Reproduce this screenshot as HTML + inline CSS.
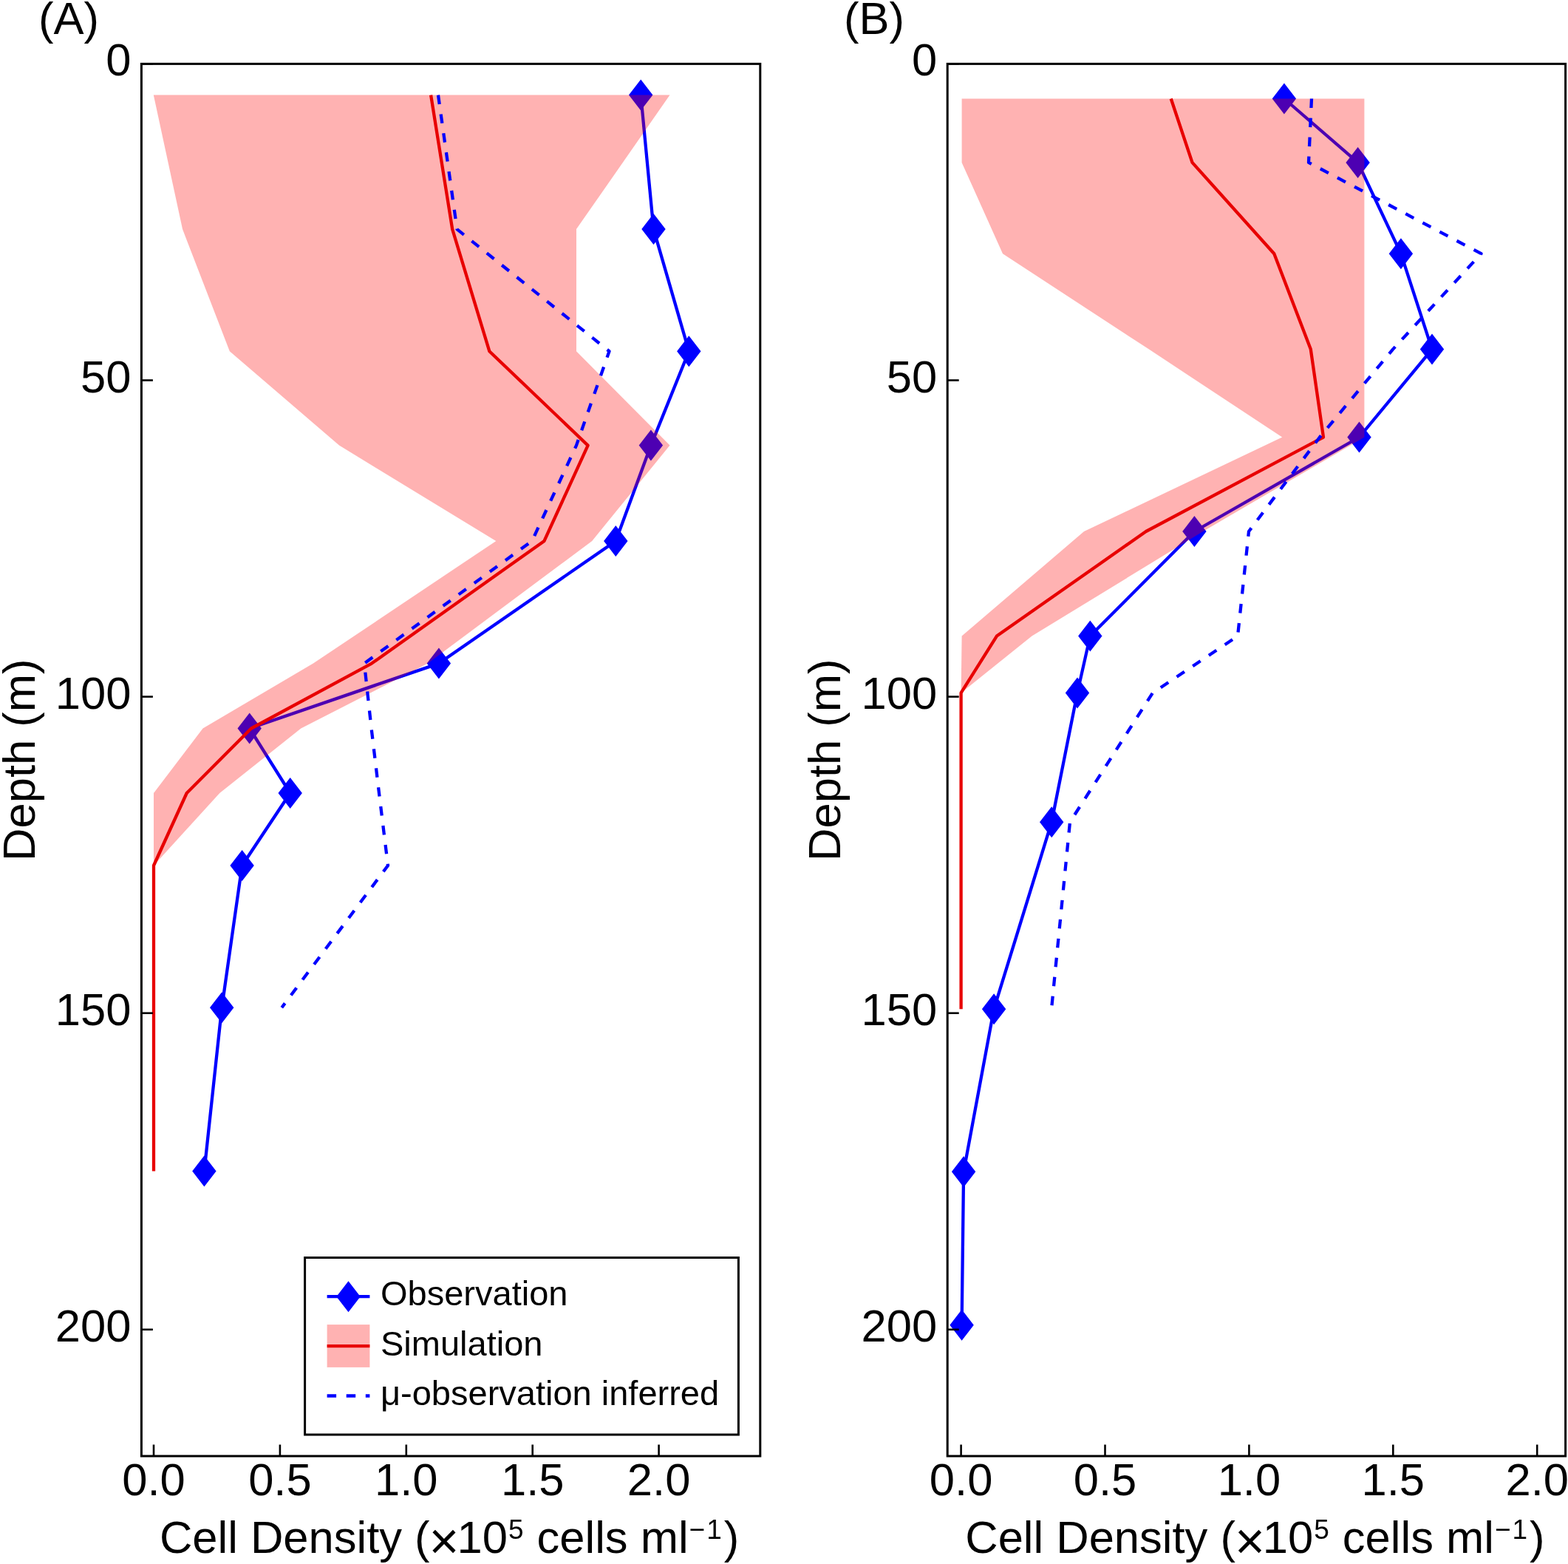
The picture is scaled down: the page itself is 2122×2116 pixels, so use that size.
<!DOCTYPE html><html><head><meta charset="utf-8"><title>Cell density profiles</title><style>html,body{margin:0;padding:0;background:#fff;}svg{display:block;}text{font-family:'Liberation Sans', sans-serif;fill:#000;}</style></head><body>
<svg width="2122" height="2116" viewBox="0 0 2122 2116">
<rect width="2122" height="2116" fill="#fff"/>
<clipPath id="ca"><rect x="191.4" y="86.4" width="837.4" height="1883.6"/></clipPath>
<g clip-path="url(#ca)">
<polyline points="867.2,128.6 884.5,310.1 932.3,475.2 880.9,602.6 833.3,731.9 593.9,897.6 337.7,985.5 392.7,1073 327.6,1171 300.2,1363.2 276.4,1584.5" fill="none" stroke="#0000ff" stroke-width="4.3" stroke-linejoin="round" stroke-linecap="butt"/>
<polygon points="867.2,107.6 883.4,128.6 867.2,149.6 851,128.6" fill="#0000ff"/>
<polygon points="884.5,289.1 900.7,310.1 884.5,331.1 868.3,310.1" fill="#0000ff"/>
<polygon points="932.3,454.2 948.5,475.2 932.3,496.2 916.1,475.2" fill="#0000ff"/>
<polygon points="880.9,581.6 897.1,602.6 880.9,623.6 864.7,602.6" fill="#0000ff"/>
<polygon points="833.3,710.9 849.5,731.9 833.3,752.9 817.1,731.9" fill="#0000ff"/>
<polygon points="593.9,876.6 610.1,897.6 593.9,918.6 577.7,897.6" fill="#0000ff"/>
<polygon points="337.7,964.5 353.9,985.5 337.7,1006.5 321.5,985.5" fill="#0000ff"/>
<polygon points="392.7,1052 408.9,1073 392.7,1094 376.5,1073" fill="#0000ff"/>
<polygon points="327.6,1150 343.8,1171 327.6,1192 311.4,1171" fill="#0000ff"/>
<polygon points="300.2,1342.2 316.4,1363.2 300.2,1384.2 284,1363.2" fill="#0000ff"/>
<polygon points="276.4,1563.5 292.6,1584.5 276.4,1605.5 260.2,1584.5" fill="#0000ff"/>
<polygon points="906.5,128.6 780,310.1 780,475.2 906.5,602.6 801.2,731.9 579,897.6 407.3,985.5 297.3,1073 208,1171 208,1171 208,1073 274.5,985.5 423.9,897.6 671.3,731.9 459,602.6 310.8,475.2 247,310.1 207.8,128.6" fill="rgba(255,0,0,0.30)"/>
<polyline points="583.1,128.6 612.2,310.1 662.3,475.2 795.6,602.6 736.5,731.9 503,897.6 340,985.5 252.7,1073 208,1171 208,1363.2 208,1584.5" fill="none" stroke="#e80000" stroke-width="4.3" stroke-linejoin="round" stroke-linecap="butt"/>
<polyline points="593,128.6 618.5,310.1 824.5,475.2 780,602.6 720,731.9 493,897.6 502.6,985.5 513,1073 525,1171 381.3,1363.2" fill="none" stroke="#0000ff" stroke-width="4.3" stroke-dasharray="12.5 13.6" stroke-linejoin="round" stroke-linecap="butt"/>
</g>
<rect x="191.4" y="86.4" width="837.4" height="1883.6" fill="none" stroke="#000" stroke-width="3.0"/>
<line x1="191.4" y1="86.4" x2="206.9" y2="86.4" stroke="#000" stroke-width="2.6"/>
<text transform="matrix(1 0 0 1.0 177.4 102.4)" text-anchor="end" font-size="61.5">0</text>
<line x1="191.4" y1="514.5" x2="206.9" y2="514.5" stroke="#000" stroke-width="2.6"/>
<text transform="matrix(1 0 0 1.0 177.4 530.5)" text-anchor="end" font-size="61.5">50</text>
<line x1="191.4" y1="942.6" x2="206.9" y2="942.6" stroke="#000" stroke-width="2.6"/>
<text transform="matrix(1 0 0 1.0 177.4 958.6)" text-anchor="end" font-size="61.5">100</text>
<line x1="191.4" y1="1370.7" x2="206.9" y2="1370.7" stroke="#000" stroke-width="2.6"/>
<text transform="matrix(1 0 0 1.0 177.4 1386.7)" text-anchor="end" font-size="61.5">150</text>
<line x1="191.4" y1="1798.8" x2="206.9" y2="1798.8" stroke="#000" stroke-width="2.6"/>
<text transform="matrix(1 0 0 1.0 177.4 1814.8)" text-anchor="end" font-size="61.5">200</text>
<line x1="208" y1="1970" x2="208" y2="1954.5" stroke="#000" stroke-width="2.6"/>
<text transform="matrix(1 0 0 1.0 208 2023)" text-anchor="middle" font-size="61.5">0.0</text>
<line x1="378.9" y1="1970" x2="378.9" y2="1954.5" stroke="#000" stroke-width="2.6"/>
<text transform="matrix(1 0 0 1.0 378.9 2023)" text-anchor="middle" font-size="61.5">0.5</text>
<line x1="549.8" y1="1970" x2="549.8" y2="1954.5" stroke="#000" stroke-width="2.6"/>
<text transform="matrix(1 0 0 1.0 549.8 2023)" text-anchor="middle" font-size="61.5">1.0</text>
<line x1="720.7" y1="1970" x2="720.7" y2="1954.5" stroke="#000" stroke-width="2.6"/>
<text transform="matrix(1 0 0 1.0 720.7 2023)" text-anchor="middle" font-size="61.5">1.5</text>
<line x1="891.6" y1="1970" x2="891.6" y2="1954.5" stroke="#000" stroke-width="2.6"/>
<text transform="matrix(1 0 0 1.0 891.6 2023)" text-anchor="middle" font-size="61.5">2.0</text>
<text x="608.1" y="2101" text-anchor="middle" font-size="61.5">Cell Density (<tspan font-size="70" dy="8" dx="-1">×</tspan><tspan dy="-8" dx="-3">10</tspan><tspan font-size="37.0" dy="-19" dx="1">5</tspan><tspan dy="19" dx="1"> cells ml</tspan><tspan font-size="37.0" dy="-19" dx="1">−</tspan><tspan font-size="37.0" dx="2">1</tspan><tspan dy="19" dx="3">)</tspan></text>
<text transform="translate(46.6,1028.2) rotate(-90)" text-anchor="middle" font-size="61.5">Depth (m)</text>
<rect x="412.6" y="1701.5" width="586.8" height="239.5" fill="#fff" stroke="#000" stroke-width="3.0"/>
<line x1="442.6" y1="1754.2" x2="500.4" y2="1754.2" stroke="#0000ff" stroke-width="4.3"/>
<polygon points="471.5,1733.2 487.7,1754.2 471.5,1775.2 455.3,1754.2" fill="#0000ff"/>
<text x="515" y="1766" font-size="47.0">Observation</text>
<rect x="442.6" y="1792.1" width="57.8" height="57.8" fill="rgba(255,0,0,0.30)"/>
<line x1="442.6" y1="1821.1" x2="500.4" y2="1821.1" stroke="#e80000" stroke-width="4.3"/>
<text x="515" y="1834" font-size="47.0">Simulation</text>
<line x1="442.6" y1="1888.5" x2="500.4" y2="1888.5" stroke="#0000ff" stroke-width="4.3" stroke-dasharray="12.5 13.6"/>
<text x="515" y="1900.5" font-size="47.0">μ-observation inferred</text>
<clipPath id="cb"><rect x="1282.2" y="86.4" width="836.4" height="1883.6"/></clipPath>
<g clip-path="url(#cb)">
<polyline points="1737.9,133.5 1837.6,219.9 1895.9,343.2 1938,472.6 1839.5,591.5 1616.4,719 1475.3,860.6 1458,937.4 1423.2,1112.2 1345.1,1365.2 1304.1,1585.3 1301.6,1792.7" fill="none" stroke="#0000ff" stroke-width="4.3" stroke-linejoin="round" stroke-linecap="butt"/>
<polygon points="1737.9,112.5 1754.1,133.5 1737.9,154.5 1721.7,133.5" fill="#0000ff"/>
<polygon points="1837.6,198.9 1853.8,219.9 1837.6,240.9 1821.4,219.9" fill="#0000ff"/>
<polygon points="1895.9,322.2 1912.1,343.2 1895.9,364.2 1879.7,343.2" fill="#0000ff"/>
<polygon points="1938,451.6 1954.2,472.6 1938,493.6 1921.8,472.6" fill="#0000ff"/>
<polygon points="1839.5,570.5 1855.7,591.5 1839.5,612.5 1823.3,591.5" fill="#0000ff"/>
<polygon points="1616.4,698 1632.6,719 1616.4,740 1600.2,719" fill="#0000ff"/>
<polygon points="1475.3,839.6 1491.5,860.6 1475.3,881.6 1459.1,860.6" fill="#0000ff"/>
<polygon points="1458,916.4 1474.2,937.4 1458,958.4 1441.8,937.4" fill="#0000ff"/>
<polygon points="1423.2,1091.2 1439.4,1112.2 1423.2,1133.2 1407,1112.2" fill="#0000ff"/>
<polygon points="1345.1,1344.2 1361.3,1365.2 1345.1,1386.2 1328.9,1365.2" fill="#0000ff"/>
<polygon points="1304.1,1564.3 1320.3,1585.3 1304.1,1606.3 1287.9,1585.3" fill="#0000ff"/>
<polygon points="1301.6,1771.7 1317.8,1792.7 1301.6,1813.7 1285.4,1792.7" fill="#0000ff"/>
<polygon points="1846.4,133.5 1846.4,219.9 1846.4,343.2 1846.4,472.6 1846.4,591.5 1628,719 1396.5,860.6 1300.6,937.4 1300.6,937.4 1301.6,860.6 1467,719 1735.2,591.5 1554.9,472.6 1357,343.2 1301.6,219.9 1301.6,133.5" fill="rgba(255,0,0,0.30)"/>
<polyline points="1584.7,133.5 1613.5,219.9 1724.3,343.2 1773.8,472.6 1791,591.5 1550.9,719 1348.9,860.6 1300.6,937.4 1300.6,1112.2 1300.6,1365.2" fill="none" stroke="#e80000" stroke-width="4.3" stroke-linejoin="round" stroke-linecap="butt"/>
<polyline points="1775,133.5 1771,219.9 2004.5,343.2 1885,472.6 1786,591.5 1690,719 1675,860.6 1560,937.4 1448,1112.2 1423,1365.2" fill="none" stroke="#0000ff" stroke-width="4.3" stroke-dasharray="12.5 13.6" stroke-linejoin="round" stroke-linecap="butt"/>
</g>
<rect x="1282.2" y="86.4" width="836.4" height="1883.6" fill="none" stroke="#000" stroke-width="3.0"/>
<line x1="1282.2" y1="86.4" x2="1297.7" y2="86.4" stroke="#000" stroke-width="2.6"/>
<text transform="matrix(1 0 0 1.0 1268.2 102.4)" text-anchor="end" font-size="61.5">0</text>
<line x1="1282.2" y1="514.5" x2="1297.7" y2="514.5" stroke="#000" stroke-width="2.6"/>
<text transform="matrix(1 0 0 1.0 1268.2 530.5)" text-anchor="end" font-size="61.5">50</text>
<line x1="1282.2" y1="942.6" x2="1297.7" y2="942.6" stroke="#000" stroke-width="2.6"/>
<text transform="matrix(1 0 0 1.0 1268.2 958.6)" text-anchor="end" font-size="61.5">100</text>
<line x1="1282.2" y1="1370.7" x2="1297.7" y2="1370.7" stroke="#000" stroke-width="2.6"/>
<text transform="matrix(1 0 0 1.0 1268.2 1386.7)" text-anchor="end" font-size="61.5">150</text>
<line x1="1282.2" y1="1798.8" x2="1297.7" y2="1798.8" stroke="#000" stroke-width="2.6"/>
<text transform="matrix(1 0 0 1.0 1268.2 1814.8)" text-anchor="end" font-size="61.5">200</text>
<line x1="1300.6" y1="1970" x2="1300.6" y2="1954.5" stroke="#000" stroke-width="2.6"/>
<text transform="matrix(1 0 0 1.0 1300.6 2023)" text-anchor="middle" font-size="61.5">0.0</text>
<line x1="1495.5" y1="1970" x2="1495.5" y2="1954.5" stroke="#000" stroke-width="2.6"/>
<text transform="matrix(1 0 0 1.0 1495.5 2023)" text-anchor="middle" font-size="61.5">0.5</text>
<line x1="1690.4" y1="1970" x2="1690.4" y2="1954.5" stroke="#000" stroke-width="2.6"/>
<text transform="matrix(1 0 0 1.0 1690.4 2023)" text-anchor="middle" font-size="61.5">1.0</text>
<line x1="1885.3" y1="1970" x2="1885.3" y2="1954.5" stroke="#000" stroke-width="2.6"/>
<text transform="matrix(1 0 0 1.0 1885.3 2023)" text-anchor="middle" font-size="61.5">1.5</text>
<line x1="2080.2" y1="1970" x2="2080.2" y2="1954.5" stroke="#000" stroke-width="2.6"/>
<text transform="matrix(1 0 0 1.0 2080.2 2023)" text-anchor="middle" font-size="61.5">2.0</text>
<text x="1698.4" y="2101" text-anchor="middle" font-size="61.5">Cell Density (<tspan font-size="70" dy="8" dx="-1">×</tspan><tspan dy="-8" dx="-3">10</tspan><tspan font-size="37.0" dy="-19" dx="1">5</tspan><tspan dy="19" dx="1"> cells ml</tspan><tspan font-size="37.0" dy="-19" dx="1">−</tspan><tspan font-size="37.0" dx="2">1</tspan><tspan dy="19" dx="3">)</tspan></text>
<text transform="translate(1137.4,1028.2) rotate(-90)" text-anchor="middle" font-size="61.5">Depth (m)</text>
<text transform="matrix(1 0 0 1 52 45.5)" font-size="61.5">(A)</text>
<text transform="matrix(1 0 0 1 1142 45.5)" font-size="61.5">(B)</text>
</svg></body></html>
